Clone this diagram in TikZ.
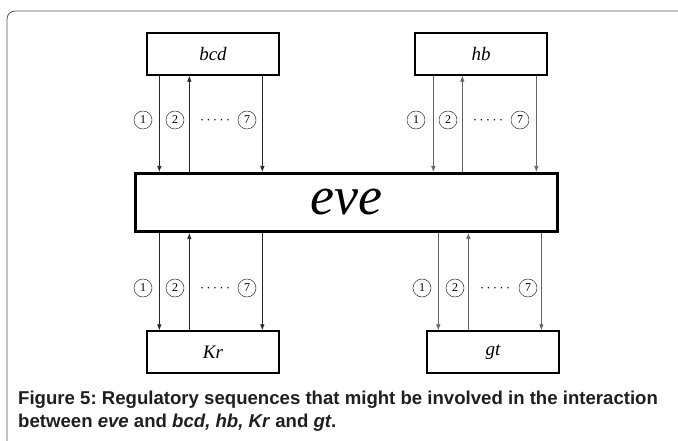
\documentclass[tikz,border=0pt]{standalone}
\usepackage{fontspec}
\setmainfont{Liberation Serif}
\newfontfamily\capfont{Liberation Sans}
\usetikzlibrary{arrows.meta,calc}
\frenchspacing
\newcommand{\fivedots}{·\hspace{2.2pt}·\hspace{2.2pt}·\hspace{2.2pt}·\hspace{2.2pt}·}
\begin{document}
\begin{tikzpicture}[x=1pt,y=-1pt,
  gbox/.style={draw=black,line width=1.3pt,fill=white,minimum width=132pt,minimum height=42pt,inner sep=0pt,font=\fontsize{19}{22}\selectfont\itshape},
  evebox/.style={draw=black,line width=3pt,fill=white,minimum width=422pt,minimum height=58pt,inner sep=0pt,font=\fontsize{54}{56}\selectfont\itshape},
  arr/.style={-{Latex[length=6pt,width=4.5pt]},line width=0.7pt,draw=black!85},
  arrg/.style={arr,draw=black!60},
  num/.style={circle,draw=black!80,line width=0.5pt,minimum size=18pt,inner sep=0pt,font=\fontsize{12}{14}\selectfont},
  dots/.style={font=\fontsize{13}{13}\selectfont,inner sep=0pt}]
\useasboundingbox (0,0) rectangle (678,441);
% outer frame
\draw[draw=black!65,line width=0.8pt,rounded corners=8pt] (7,441) -- (7,11) -- (678,11);
% gene boxes
\node[gbox] (bcd) at (213,54) {bcd};
\node[gbox] (hb) at (481,54) {hb};
\node[evebox] (eve) at (346.5,202.5) {eve};
\node[gbox] (Kr) at (213,352) {Kr};
\node[gbox] (gt) at (493,352) {gt};
% bcd arrows
\draw[arr] ([xshift=13pt]bcd.south west) -- ([xshift=13pt]bcd.south west |- eve.north);
\draw[arr] ([xshift=43pt]bcd.south west |- eve.north) -- ([xshift=43pt]bcd.south west);
\draw[arr] ([xshift=116pt]bcd.south west) -- ([xshift=116pt]bcd.south west |- eve.north);
% hb arrows
\draw[arrg] ([xshift=19pt]hb.south west) -- ([xshift=19pt]hb.south west |- eve.north);
\draw[arrg] ([xshift=48pt]hb.south west |- eve.north) -- ([xshift=48pt]hb.south west);
\draw[arrg] ([xshift=122pt]hb.south west) -- ([xshift=122pt]hb.south west |- eve.north);
% Kr arrows
\draw[arr] ([xshift=13pt]Kr.north west |- eve.south) -- ([xshift=13pt]Kr.north west);
\draw[arr] ([xshift=43pt]Kr.north west) -- ([xshift=43pt]Kr.north west |- eve.south);
\draw[arr] ([xshift=116pt]Kr.north west |- eve.south) -- ([xshift=116pt]Kr.north west);
% gt arrows
\draw[arrg] ([xshift=12pt]gt.north west |- eve.south) -- ([xshift=12pt]gt.north west);
\draw[arrg] ([xshift=42pt]gt.north west) -- ([xshift=42pt]gt.north west |- eve.south);
\draw[arrg] ([xshift=115pt]gt.north west |- eve.south) -- ([xshift=115pt]gt.north west);
% number circles
\node[num] (b1) at (143,120) {1};
\node[num] (b2) at (175,120) {2};
\node[dots] (bd) at (215,122) {\fivedots};
\node[num] (b7) at (247,120) {7};
\node[num] (h1) at (416,120) {1};
\node[num] (h2) at (448,120) {2};
\node[dots] (hd) at (488,122) {\fivedots};
\node[num] (h7) at (520,120) {7};
\node[num] (k1) at (143,288) {1};
\node[num] (k2) at (175,288) {2};
\node[dots] (kd) at (215,290) {\fivedots};
\node[num] (k7) at (247,288) {7};
\node[num] (g1) at (422,288) {1};
\node[num] (g2) at (455,288) {2};
\node[dots] (gd) at (495,290) {\fivedots};
\node[num] (g7) at (528,288) {7};
% caption
\node[anchor=west,inner sep=0pt,align=left,text=black!88,font=\capfont\bfseries\fontsize{18.6}{23}\selectfont] (cap) at (18,411)
 {Figure 5: Regulatory sequences that might be involved in the interaction\\between \textit{eve} and \textit{bcd, hb, Kr} and \textit{gt}.};
\end{tikzpicture}
\end{document}
